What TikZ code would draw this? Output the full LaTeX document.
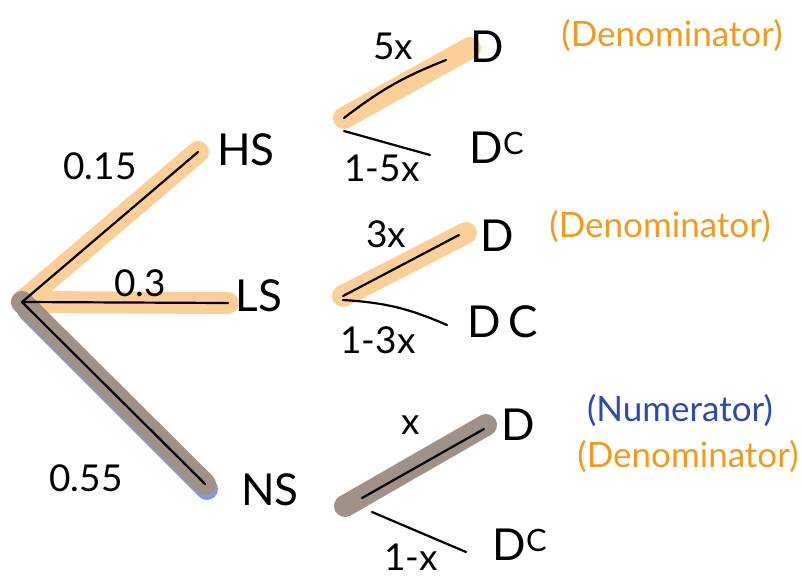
\documentclass[tikz,border=0pt]{standalone}
\usepackage{fontspec}
\setmainfont{Lato}
\usetikzlibrary{calc}
\definecolor{hlor}{HTML}{FBCF97}
\definecolor{hlgr}{HTML}{9F9188}
\definecolor{hlbl}{HTML}{8C97D6}
\definecolor{txor}{HTML}{F39A1E}
\definecolor{txbl}{HTML}{2A4BAA}
\begin{document}
\begin{tikzpicture}[x=1pt,y=-1pt,
  ink/.style={line width=2.2pt,black,line cap=round},
  hlo/.style={line width=22pt,hlor,line cap=round},
  hlg/.style={line width=22pt,hlgr,line cap=round},
  hlb/.style={line width=22pt,hlbl,line cap=round},
  big/.style={font=\fontsize{44}{46}\selectfont,inner sep=0pt},
  lab/.style={font=\fontsize{37}{39}\selectfont,inner sep=0pt},
  note/.style={font=\fontsize{35}{37}\selectfont,inner sep=0pt}]
\useasboundingbox (0,0) rectangle (802,578);
% coordinates
\coordinate (root) at (22,302);
\coordinate (hsE) at (198,152);
\coordinate (lsE) at (228,303);
\coordinate (nsE) at (205,484);
\coordinate (h1) at (344,118);
\coordinate (h1D) at (446,60);
\coordinate (h2) at (344,131);
\coordinate (h2D) at (430,155);
\coordinate (l1) at (343,296);
\coordinate (l1D) at (459,235);
\coordinate (l2) at (343,300);
\coordinate (l2D) at (447,325);
\coordinate (n1) at (362,498);
\coordinate (n1D) at (484,429);
\coordinate (n2) at (372,512);
\coordinate (n2D) at (466,552);
% highlights
\draw[hlo] (root) -- (hsE);
\draw[hlo] (root) -- (lsE);
\draw[hlb] ($(root)+(6,8)$) -- ($(nsE)+(2,5)$);
\draw[hlg] (root) -- (nsE);
\draw[hlo] (h1) -- (470,48);
\draw[hlo] (l1) -- (466,233);
\draw[hlg] (345,506) -- (486,425);
% branches
\draw[ink] (root) -- (hsE);
\draw[ink] (root) -- (lsE);
\draw[ink] (root) -- (nsE);
\draw[ink] (h1) to[bend left=8] (h1D);
\draw[ink] (h2) -- (h2D);
\draw[ink] (l1) -- (l1D);
\draw[ink] (l2) to[bend left=10] (l2D);
\draw[ink] (n1) -- (n1D);
\draw[ink] (n2) -- (n2D);
% labels
\node[big] (HS) at (246,150) {HS};
\node[big] (LS) at (259,296) {LS};
\node[big] (NS) at (270,490) {NS};
\node[lab] (p15) at (100,166) {0.15};
\node[lab] (p3) at (140,283) {0.3};
\node[lab] (p55) at (86,478) {0.55};
\node[lab] (l5x) at (393,46) {5x};
\node[big] (D1) at (487,47) {D};
\node[lab] (l15x) at (382,168) {1-5x};
\node[big] (Dc1) at (497,148) {D\textsuperscript{C}};
\node[note,txor] (den1) at (672,35) {(Denominator)};
\node[lab] (l3x) at (386,234) {3x};
\node[big] (D2) at (497,236) {D};
\node[lab] (l13x) at (378,340) {1-3x};
\node[big] (Dc2) at (503,322) {D\,C};
\node[note,txor] (den2) at (660,226) {(Denominator)};
\node[lab] (lx) at (411,425) {x};
\node[big] (D3) at (518,425) {D};
\node[lab] (l1x) at (411,557) {1-x};
\node[big] (Dc3) at (520,545) {D\textsuperscript{C}};
\node[note,txbl] (num) at (680,410) {(Numerator)};
\node[note,txor] (den3) at (688,456) {(Denominator)};
\end{tikzpicture}
\end{document}
